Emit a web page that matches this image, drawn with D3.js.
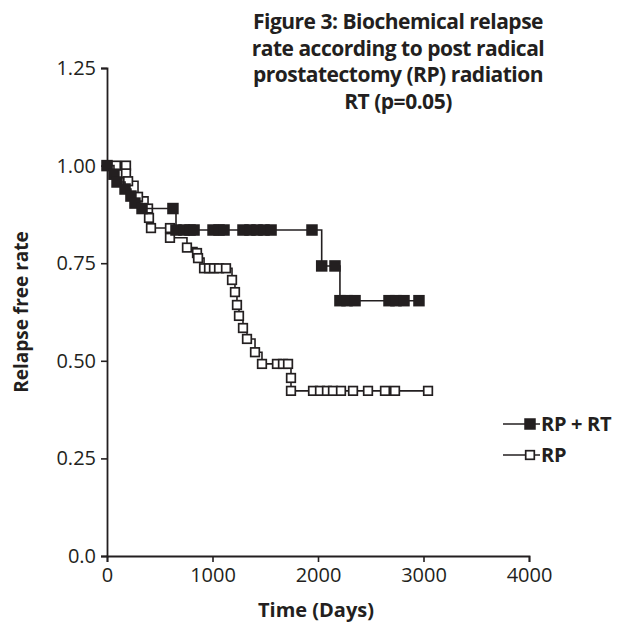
<!DOCTYPE html>
<html>
<head>
<meta charset="utf-8">
<script src="https://cdn.jsdelivr.net/npm/d3@7"></script>
<style>
  body { margin: 0; background: #fff; }
  text { font-family: "Open Sans", sans-serif; fill: #231f20; }
</style>
</head>
<body>
<div class="content"></div>
<script>
//--> Chart data
const titleLines = [
  "Figure 3: Biochemical relapse",
  "rate according to post radical",
  "prostatectomy (RP) radiation",
  "RT (p=0.05)"
];
const xTicks = [0, 1000, 2000, 3000, 4000];
const yTicks = [0, 0.25, 0.5, 0.75, 1, 1.25];
const yTickLabels = ["0.0", "0.25", "0.50", "0.75", "1.00", "1.25"];
const seriesNames = ["RP + RT", "RP"];

// RP (open squares)
const rpTime = [0, 85, 180, 180, 200, 294, 389, 398, 417, 597, 597, 758, 853, 863,
  920, 967, 1014, 1062, 1128, 1185, 1213, 1232, 1251, 1289, 1327, 1403,
  1469, 1611, 1668, 1716, 1744, 1744, 1953, 2019, 2085, 2142, 2218, 2332,
  2474, 2635, 2730, 3043];
const rpRate = [1, 1, 1, 0.98, 0.96, 0.92, 0.89, 0.866, 0.84, 0.84, 0.815, 0.79, 0.776, 0.763,
  0.737, 0.737, 0.737, 0.737, 0.737, 0.707, 0.676, 0.643, 0.615, 0.584, 0.556, 0.522,
  0.492, 0.492, 0.492, 0.492, 0.456, 0.423, 0.423, 0.423, 0.423, 0.423, 0.423, 0.423,
  0.423, 0.423, 0.423, 0.423];

// RP + RT (filled squares)
const rprtTime = [0, 66, 95, 171, 227, 265, 332, 625, 654, 730, 787, 825, 1005, 1062,
  1109, 1289, 1355, 1422, 1488, 1555, 1943, 2035, 2161, 2208, 2275, 2351, 2673, 2739,
  2815, 2957];
const rprtRate = [1, 0.978, 0.958, 0.94, 0.922, 0.904, 0.89, 0.89, 0.835, 0.835, 0.835,
  0.835, 0.835, 0.835, 0.835, 0.835, 0.835, 0.835, 0.835, 0.835, 0.835, 0.743, 0.743,
  0.654, 0.654, 0.654, 0.654, 0.654, 0.654, 0.654];

//--> Set up main elements
const width = 618;
const height = 627;
const ink = "#231f20";

const svg = d3
  .select(".content")
  .append("svg")
  .attr("width", width)
  .attr("height", height);

const x = d3.scaleLinear().domain([0, 4000]).range([107, 529]);
const y = d3.scaleLinear().domain([0, 1.25]).range([556, 68]);

//--> Title
svg
  .append("text")
  .attr("text-anchor", "middle")
  .style("font-weight", 700)
  .style("font-size", "21px")
  .style("letter-spacing", "-0.5px")
  .selectAll("tspan")
  .data(titleLines)
  .join("tspan")
  .attr("x", 398)
  .attr("y", (_, i) => 29 + i * 26.5)
  .text(d => d);

//--> Axes
const xAxis = svg
  .append("g")
  .attr("transform", `translate(0, ${y(0)})`)
  .call(d3.axisBottom(x).tickValues(xTicks).tickSize(6).tickPadding(6).tickFormat(d3.format("d")));

const yAxis = svg
  .append("g")
  .attr("transform", `translate(${x(0)}, 0)`)
  .call(
    d3.axisLeft(y)
      .tickValues(yTicks)
      .tickSize(6)
      .tickPadding(5)
      .tickFormat((_, i) => yTickLabels[i])
  );

[xAxis, yAxis].forEach(g => {
  g.select(".domain").attr("stroke", ink).attr("stroke-width", 1.8);
  g.selectAll(".tick line").attr("stroke", ink).attr("stroke-width", 1.6);
  g.selectAll(".tick text")
    .style("font-size", "20px")
    .style("font-family", "'Open Sans', sans-serif")
    .attr("fill", ink);
});

//--> Axis titles
svg
  .append("text")
  .attr("x", 316)
  .attr("y", 617)
  .attr("text-anchor", "middle")
  .style("font-weight", 700)
  .style("font-size", "20px")
  .text("Time (Days)");

svg
  .append("text")
  .attr("transform", `translate(28, ${(y(0) + y(1.25)) / 2}) rotate(-90)`)
  .attr("text-anchor", "middle")
  .style("font-weight", 700)
  .style("font-size", "19px")
  .text("Relapse free rate");

//--> Curves
const line = d3
  .line()
  .x(d => x(d[0]))
  .y(d => y(d[1]))
  .curve(d3.curveStepAfter);

const rpData = rpTime.map((t, i) => [t, rpRate[i]]);
const rprtData = rprtTime.map((t, i) => [t, rprtRate[i]]);

const openSize = 8.6;
const filledSize = 11.5;

function drawSeries(data, filled) {
  svg
    .append("path")
    .datum(data)
    .attr("d", line)
    .attr("fill", "none")
    .attr("stroke", ink)
    .attr("stroke-width", 1.6);

  const s = filled ? filledSize : openSize;
  svg
    .append("g")
    .selectAll("rect")
    .data(data)
    .join("rect")
    .attr("x", d => x(d[0]) - s / 2)
    .attr("y", d => y(d[1]) - s / 2)
    .attr("width", s)
    .attr("height", s)
    .attr("fill", filled ? ink : "#fff")
    .attr("stroke", filled ? "none" : ink)
    .attr("stroke-width", 1.7);
}

drawSeries(rpData, false);
drawSeries(rprtData, true);

//--> Legend
const legend = svg.append("g").attr("transform", "translate(503, 0)");
const legendY = [424, 455];

seriesNames.forEach((name, i) => {
  const g = legend.append("g").attr("transform", `translate(0, ${legendY[i]})`);
  g.append("line")
    .attr("x1", 0)
    .attr("x2", 37)
    .attr("stroke", ink)
    .attr("stroke-width", 1.6);
  const s = i === 0 ? filledSize : openSize;
  g.append("rect")
    .attr("x", 27 - s / 2)
    .attr("y", -s / 2)
    .attr("width", s)
    .attr("height", s)
    .attr("fill", i === 0 ? ink : "#fff")
    .attr("stroke", i === 0 ? "none" : ink)
    .attr("stroke-width", 1.7);
  g.append("text")
    .attr("x", 38)
    .attr("y", 7)
    .style("font-weight", 700)
    .style("font-size", "20px")
    .style("letter-spacing", "-0.3px")
    .text(name);
});
</script>
</body>
</html>
